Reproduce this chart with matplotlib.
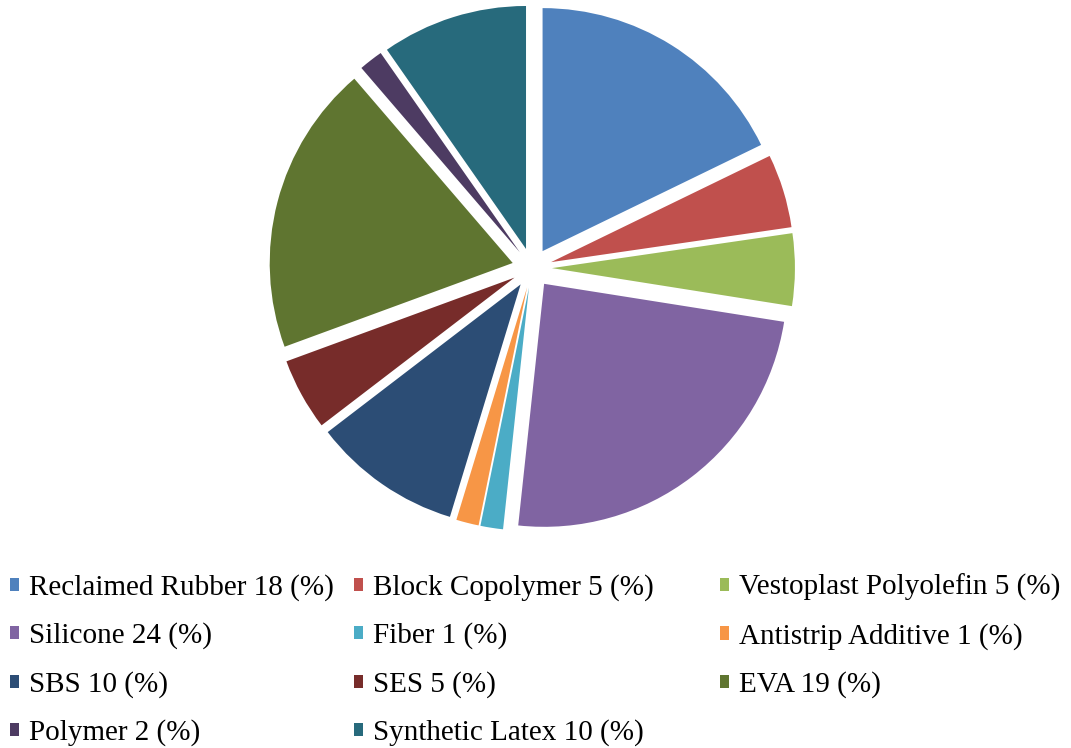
import matplotlib.pyplot as plt
from matplotlib.patches import Patch

# legend text as printed in the chart
labels = ["Reclaimed Rubber 18 (%)", "Block Copolymer 5 (%)", "Vestoplast Polyolefin 5 (%)",
          "Silicone 24 (%)", "Fiber 1 (%)", "Antistrip Additive 1 (%)", "SBS 10 (%)",
          "SES 5 (%)", "EVA 19 (%)", "Polymer 2 (%)", "Synthetic Latex 10 (%)"]
shares = [17.8, 4.9, 4.8, 24.2, 1.5, 1.5, 9.9, 4.8, 19.3, 1.6, 9.7]
colors = ["#4F81BD", "#C0504D", "#9BBB59", "#8064A2", "#4BACC6", "#F79646",
          "#2C4D75", "#772C2A", "#5F7530", "#4D3B62", "#276A7C"]

plt.rcParams["font.family"] = ["Liberation Serif", "DejaVu Serif"]

W, H = 1071, 748
fig = plt.figure(figsize=(W / 100, H / 100), dpi=100)

# pie placed by pixel centre / radius
cx, cy, r = 532, 268, 243
lim = 1.15
ax = fig.add_axes([(cx - lim * r) / W, (H - cy - lim * r) / H, 2 * lim * r / W, 2 * lim * r / H])
ax.pie(shares, colors=colors, startangle=90, counterclock=False,
       explode=[0.082] * len(shares), wedgeprops=dict(linewidth=0))
ax.set_xlim(-lim, lim)
ax.set_ylim(-lim, lim)
ax.set_aspect("equal")
ax.axis("off")

# legend: three columns, items filled row by row
col_x = [10, 354, 720]
for j in range(3):
    idx = list(range(j, len(labels), 3))
    handles = [Patch(facecolor=colors[i]) for i in idx]
    fig.legend(handles, [labels[i] for i in idx], loc="upper left",
               bbox_to_anchor=(col_x[j] / W, 1 - 574 / H),
               frameon=False, fontsize=21, handlelength=0.31, handleheight=0.31,
               handletextpad=0.33, labelspacing=0.74, borderpad=0, borderaxespad=0)

fig.savefig("out.png", dpi=100)
